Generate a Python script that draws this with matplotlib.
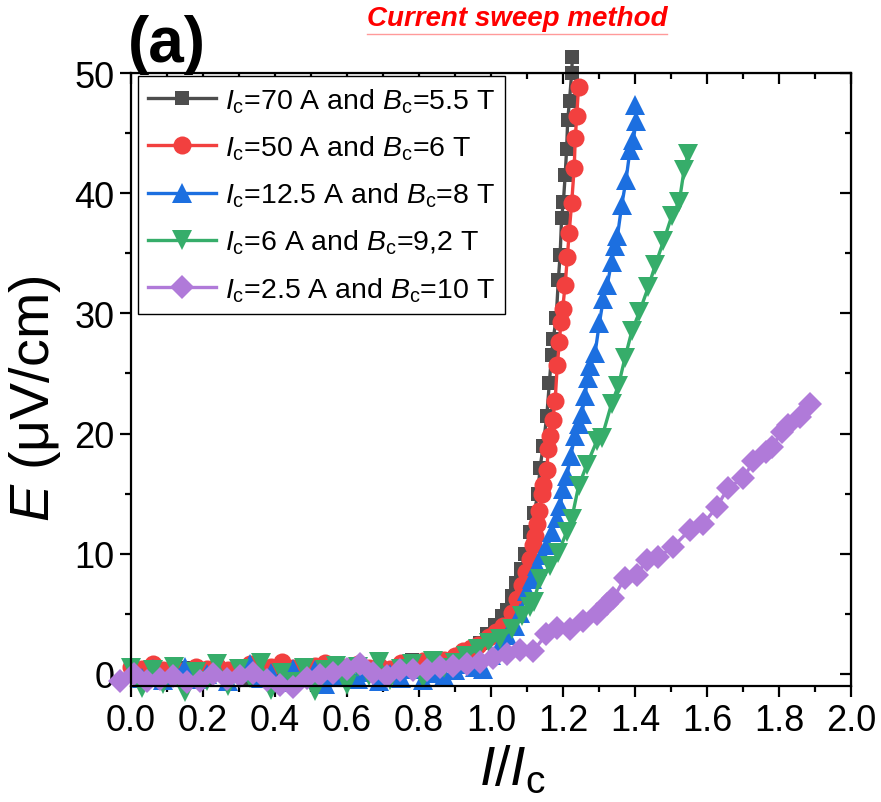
import matplotlib
matplotlib.use("Agg")
import matplotlib.pyplot as plt
from matplotlib.ticker import MultipleLocator, FormatStrFormatter
from matplotlib.lines import Line2D

plt.rcParams['font.family'] = ['Liberation Sans', 'DejaVu Sans']
plt.rcParams['mathtext.fontset'] = 'custom'
plt.rcParams['mathtext.rm'] = 'Liberation Sans'
plt.rcParams['mathtext.it'] = 'Liberation Sans:italic'
plt.rcParams['mathtext.bf'] = 'Liberation Sans:bold'

# ─────────────────────────────────────────────
#  DADOS
# ─────────────────────────────────────────────

BASE_X = [0.00, 0.03, 0.06, 0.09, 0.12, 0.15, 0.18, 0.21, 0.24, 0.27,
          0.30, 0.33, 0.36, 0.39, 0.42, 0.45, 0.48, 0.51, 0.54, 0.57,
          0.60, 0.63, 0.66, 0.69, 0.72, 0.75, 0.78, 0.81, 0.84, 0.87]

# Ic = 70 A, Bc = 5.5 T
GRAY_X = BASE_X + [
    0.90, 0.93, 0.95, 0.97, 0.99, 1.01, 1.03, 1.044, 1.057, 1.07,
    1.083, 1.095, 1.108, 1.12, 1.13, 1.136, 1.145, 1.155, 1.162, 1.168,
    1.173, 1.181, 1.187, 1.192, 1.196, 1.201, 1.206, 1.210, 1.213, 1.218,
    1.224, 1.226]
GRAY_Y = [
    0.3, 0.1, 0.4, -0.2, 0.2, 0.5, 0.0, -0.3, 0.3, 0.1,
    0.4, -0.4, 0.2, 0.6, 0.0, 0.3, -0.5, 0.2, 0.5, 0.1,
    0.4, 0.7, 0.2, 0.5, 0.3, 0.6, 1.2, 0.4, 0.8, 1.0,
    1.2, 1.6, 2.0, 2.6, 3.3, 4.1, 4.8, 5.3, 6.5, 7.6,
    8.7, 10.0, 11.8, 13.4, 15.0, 17.1, 19.0, 21.5, 24.2, 26.5,
    27.9, 29.6, 32.8, 34.9, 37.9, 39.3, 41.5, 43.7, 46.1, 47.7,
    50.0, 51.3]

# Ic = 50 A, Bc = 6 T
RED_X = BASE_X + [
    0.90, 0.923, 0.945, 0.965, 0.993, 1.015, 1.034, 1.057, 1.071, 1.085,
    1.097, 1.108, 1.116, 1.122, 1.129, 1.134, 1.141, 1.145, 1.155, 1.159,
    1.164, 1.171, 1.178, 1.184, 1.190, 1.194, 1.199, 1.206, 1.212, 1.217,
    1.224, 1.231, 1.234, 1.238, 1.243]
RED_Y = [
    0.6, 0.4, 0.8, 0.3, 0.5, 0.2, 0.6, 0.4, 0.7, 0.3,
    0.5, 0.8, 0.4, 0.6, 1.0, 0.5, 0.3, 0.7, 0.9, 0.4,
    0.6, 0.8, 0.5, 0.7, 0.4, 0.9, 0.6, 1.1, 0.8, 1.2,
    1.5, 1.9, 2.2, 2.4, 3.05, 3.5, 4.0, 5.1, 6.25, 7.4,
    8.5, 9.6, 10.7, 11.5, 12.5, 13.6, 15.0, 15.75, 17.0, 18.7,
    19.8, 21.1, 22.7, 25.7, 27.6, 29.3, 30.4, 32.4, 34.7, 36.7,
    39.2, 42.1, 44.6, 46.4, 48.8]

# Ic = 12.5 A, Bc = 8 T
BLUE_X = BASE_X + [
    0.90, 0.93, 0.955, 0.979, 1.0, 1.025, 1.045, 1.067, 1.081, 1.099,
    1.113, 1.127, 1.141, 1.155, 1.169, 1.182, 1.192, 1.201, 1.211, 1.221,
    1.233, 1.243, 1.252, 1.261, 1.268, 1.275, 1.289, 1.301, 1.312, 1.323,
    1.335, 1.344, 1.351, 1.363, 1.375, 1.386, 1.395, 1.403, 1.400]
BLUE_Y = [
    0.2, -0.3, 0.4, -0.5, 0.1, 0.6, -0.4, 0.0, 0.3, -0.6,
    0.2, 0.8, -0.3, 0.1, -0.7, 0.4, -0.2, 0.3, -0.8, -0.1,
    0.5, -0.4, 0.2, -0.6, 0.0, -0.3, 0.4, -0.5, 0.1, -0.2,
    0.3, 0.8, 0.6, 0.4, 1.6, 2.4, 3.2, 4.0, 5.1, 6.9,
    7.9, 9.0, 9.9, 10.7, 11.8, 13.0, 14.0, 15.4, 16.5, 18.1,
    19.8, 20.8, 21.6, 23.1, 24.6, 25.6, 26.7, 29.2, 31.2, 32.4,
    34.3, 35.6, 36.4, 39.0, 41.1, 43.6, 44.4, 46.0, 47.3]

# Ic = 6 A, Bc = 9,2 T
GREEN_X = BASE_X + [
    0.90, 0.93, 0.965, 0.993, 1.025, 1.057, 1.085, 1.108, 1.118, 1.136,
    1.164, 1.187, 1.210, 1.224, 1.243, 1.266, 1.294, 1.307, 1.335, 1.354,
    1.372, 1.391, 1.412, 1.437, 1.456, 1.479, 1.502, 1.523, 1.536, 1.548]
GREEN_Y = [
    0.5, -1.2, 0.3, -0.8, 0.6, -1.5, 0.2, -0.6, 0.8, -1.0,
    0.4, -0.3, 0.9, -1.3, 0.1, -0.7, 0.5, -1.4, 0.3, 0.7,
    -0.9, 0.6, -0.2, 1.0, -0.5, 0.4, 0.8, -0.3, 1.1, 0.5,
    0.9, 1.5, 2.1, 2.6, 2.9, 3.75, 4.8, 5.6, 6.0, 7.9,
    9.0, 10.1, 11.8, 12.9, 15.6, 17.4, 19.4, 19.6, 22.5, 24.0,
    26.3, 28.5, 30.1, 32.2, 34.0, 36.0, 38.1, 39.3, 41.9, 43.3]

# Ic = 2.5 A, Bc = 10 T
PURPLE_X = [
    -0.03, 0.007, 0.044, 0.081, 0.118, 0.155, 0.192, 0.229, 0.266, 0.303,
    0.34, 0.377, 0.414, 0.451, 0.488, 0.525, 0.562, 0.599, 0.636, 0.673,
    0.71, 0.747, 0.784, 0.821, 0.858, 0.895, 0.932, 0.969, 1.006, 1.043,
    1.08, 1.117, 1.154, 1.182, 1.219, 1.256, 1.294, 1.321, 1.34, 1.372,
    1.405, 1.432, 1.465, 1.506, 1.553, 1.59, 1.627, 1.659, 1.701, 1.729,
    1.765, 1.78, 1.807, 1.826, 1.858, 1.886]
PURPLE_Y = [
    -0.55, 0.0, -0.55, -0.4, -0.15, -0.7, -0.55, 0.0, -0.45, -0.2,
    0.1, -0.5, -0.9, -1.1, -0.3, -0.1, 0.1, 0.4, 0.8, 0.1,
    -0.2, 0.3, 0.35, 0.3, 0.55, 0.7, 0.8, 1.0, 1.3, 1.7,
    2.0, 1.9, 3.3, 3.8, 3.7, 4.4, 5.0, 5.8, 6.3, 8.0,
    8.2, 9.5, 9.7, 10.6, 12.0, 12.5, 13.9, 15.5, 16.3, 17.7,
    18.5, 18.9, 20.1, 20.7, 21.4, 22.5]

LABELS = [r'$I_{\rm c}$=70 A and $B_{\rm c}$=5.5 T',
          r'$I_{\rm c}$=50 A and $B_{\rm c}$=6 T',
          r'$I_{\rm c}$=12.5 A and $B_{\rm c}$=8 T',
          r'$I_{\rm c}$=6 A and $B_{\rm c}$=9,2 T',
          r'$I_{\rm c}$=2.5 A and $B_{\rm c}$=10 T']

# ─────────────────────────────────────────────
#  ESTILO
# ─────────────────────────────────────────────

SERIES = [
    (GRAY_X,   GRAY_Y,   '#4d4d4d', 's', 10),
    (RED_X,    RED_Y,    '#f2403f', 'o', 13),
    (BLUE_X,   BLUE_Y,   '#1c6fe0', '^', 14),
    (GREEN_X,  GREEN_Y,  '#36ad6a', 'v', 14),
    (PURPLE_X, PURPLE_Y, '#b07ad9', 'D', 12),
]

fig = plt.figure(figsize=(8.81, 8.03), dpi=100)
ax = fig.add_axes([0.1487, 0.1445, 0.8173, 0.7633])

for (xs, ys, cor, mk, ms), lab in zip(SERIES, LABELS):
    ax.plot(xs, ys, color=cor, linewidth=2.4, marker=mk, markersize=ms,
            markeredgewidth=0, label=lab, clip_on=False)

ax.set_xlim(0, 2.0)
ax.set_ylim(-1, 50)
ax.xaxis.set_major_locator(MultipleLocator(0.2))
ax.xaxis.set_minor_locator(MultipleLocator(0.1))
ax.xaxis.set_major_formatter(FormatStrFormatter('%.1f'))
ax.yaxis.set_major_locator(MultipleLocator(10))
ax.yaxis.set_minor_locator(MultipleLocator(5))

for s in ax.spines.values():
    s.set_linewidth(1.6)
ax.tick_params(which='major', direction='out', length=8, width=1.6,
               labelsize=26, pad=4)
ax.tick_params(which='minor', direction='out', length=4, width=1.6)

# eixos espelhados (ticks para dentro, sem rotulos)
top = ax.secondary_xaxis('top')
top.xaxis.set_major_locator(MultipleLocator(0.2))
top.xaxis.set_minor_locator(MultipleLocator(0.1))
top.tick_params(which='major', direction='in', length=8, width=1.6,
                labeltop=False)
top.tick_params(which='minor', direction='in', length=4, width=1.6)
right = ax.secondary_yaxis('right')
right.yaxis.set_major_locator(MultipleLocator(10))
right.yaxis.set_minor_locator(MultipleLocator(5))
right.tick_params(which='major', direction='in', length=8, width=1.6,
                  labelright=False)
right.tick_params(which='minor', direction='in', length=4, width=1.6)

ax.set_xlabel(r'$I/I_{\rm c}$', fontsize=40)
ax.set_ylabel(r'$E$ (μV/cm)', fontsize=40)
ax.xaxis.set_label_coords(0.53, -0.095)
ax.yaxis.set_label_coords(-0.095, 0.47)

leg = ax.legend(loc='upper left', bbox_to_anchor=(0.0097, 0.995),
                borderaxespad=0, fontsize=20.5, handlelength=2.4,
                handletextpad=0.3, labelspacing=0.66, borderpad=0.35,
                fancybox=False, framealpha=1, edgecolor='black',
                numpoints=1)
leg.get_frame().set_linewidth(1.0)

fig.text(0.145, 0.906, '(a)', fontsize=46, fontweight='bold',
         ha='left', va='bottom')
title = fig.text(0.587, 0.993, 'Current sweep method', fontsize=20,
                 fontweight='bold', fontstyle='italic', color='#ff0000',
                 ha='center', va='top')

# sublinhado do titulo
fig.canvas.draw()
bb = title.get_window_extent(fig.canvas.get_renderer())
bb = bb.transformed(fig.transFigure.inverted())
fig.add_artist(Line2D([bb.x0, bb.x1], [bb.y0 - 0.004, bb.y0 - 0.004],
                      transform=fig.transFigure, color='#ff9a9a',
                      linewidth=1.0))

fig.savefig('out.png', dpi=100)
